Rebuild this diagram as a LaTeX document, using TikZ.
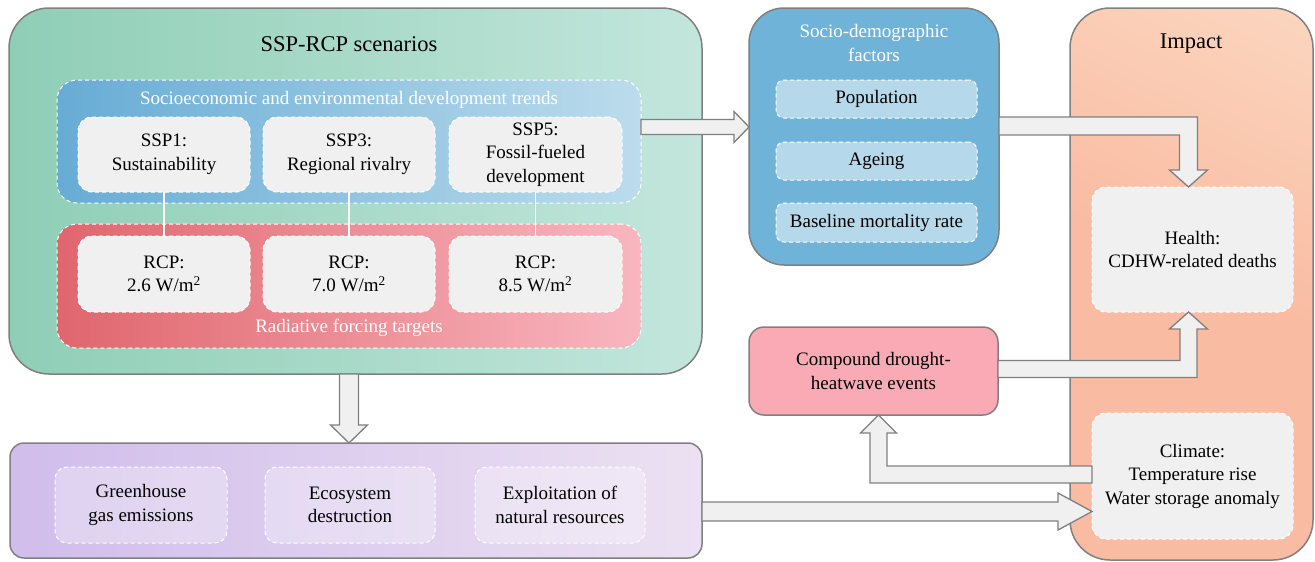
\documentclass[tikz,border=0pt]{standalone}
\usepackage{fontspec}
\setmainfont{Liberation Serif}
\newfontfamily\figfont{Liberation Serif}
\usepackage{xcolor}
\usepackage{tikz}
\usetikzlibrary{positioning, calc}

\definecolor{greenL}{HTML}{8FCEB6}
\definecolor{greenR}{HTML}{C3E6DC}
\definecolor{blueL}{HTML}{67ACD5}
\definecolor{blueR}{HTML}{BCDCEC}
\definecolor{redL}{HTML}{E0666E}
\definecolor{redR}{HTML}{F9B6BF}
\definecolor{socioBlue}{HTML}{6FB4D8}
\definecolor{socioIn}{HTML}{B5D9EB}
\definecolor{impDark}{HTML}{F9BBA1}
\definecolor{impLight}{HTML}{FDE4CF}
\definecolor{cdhwPink}{HTML}{F9AAB5}
\definecolor{purpL}{HTML}{D0BDEB}
\definecolor{purpR}{HTML}{ECE1F2}
\definecolor{boxGray}{HTML}{F0F0F0}
\definecolor{edgeGray}{HTML}{808080}

\pgfdeclareverticalshading{impshade}{100bp}{color(0bp)=(impDark); color(50bp)=(impDark); color(100bp)=(impLight)}

\newcommand{\boxfont}{\figfont\fontsize{19}{23.5}\selectfont}
\newcommand{\headfont}{\figfont\fontsize{22.5}{26}\selectfont}

\begin{document}
\begin{tikzpicture}[
        x=1pt, y=1pt,
        every node/.style={inner sep=0pt, outer sep=0pt, font=\boxfont, align=center},
        panel/.style={draw=edgeGray, line width=1.5pt, anchor=north west},
        dashbox/.style={draw=white, line width=1pt, dash pattern=on 4pt off 3pt, anchor=north west},
        graybox/.style={dashbox, fill=boxGray, rounded corners=14pt,
            minimum width=172pt, minimum height=75pt},
        factorbox/.style={dashbox, fill=socioIn, rounded corners=8pt,
            minimum width=201pt, minimum height=38pt},
        driverbox/.style={dashbox, fill=white, fill opacity=0.3, text opacity=1,
            rounded corners=12pt, minimum width=171pt, minimum height=76pt},
        fatarrow/.style={draw=edgeGray, fill=boxGray, line width=1.3pt, line join=miter}
    ]

    \useasboundingbox (0,0) rectangle (1315,-562);

    % scenario panel
    \node[panel, left color=greenL, right color=greenR, rounded corners=40pt,
        minimum width=693pt, minimum height=366pt] (ssp) at (9,-8) {};
    \node[font=\headfont] (ssptitle) at (349,-44) {SSP-RCP scenarios};

    \node[dashbox, left color=blueL, right color=blueR, rounded corners=20pt,
        minimum width=584pt, minimum height=123pt] (trend) at (57,-80) {};
    \node[text=white] (trendlabel) at (349,-100) {Socioeconomic and environmental development trends};

    \node[graybox] (ssp1) at (78,-117) {SSP1:\\Sustainability};
    \node[graybox, right=13pt of ssp1] (ssp3) {SSP3:\\Regional rivalry};
    \node[graybox, right=14pt of ssp3, minimum width=173pt] (ssp5) {SSP5:\\Fossil-fueled\\development};

    \node[dashbox, left color=redL, right color=redR, rounded corners=20pt,
        minimum width=584pt, minimum height=124pt] (rcp) at (57,-224) {};
    \node[text=white] (rcplabel) at (349,-328) {Radiative forcing targets};

    \node[graybox, minimum height=76pt] (rcp26) at (78,-236) {RCP:\\2.6 W/m\textsuperscript{2}};
    \node[graybox, minimum height=76pt, right=13pt of rcp26] (rcp70) {RCP:\\7.0 W/m\textsuperscript{2}};
    \node[graybox, minimum height=76pt, minimum width=173pt, right=14pt of rcp70] (rcp85) {RCP:\\8.5 W/m\textsuperscript{2}};

    \draw[white, line width=1.2pt] (ssp1) -- (rcp26);
    \draw[white, line width=1.2pt] (ssp3) -- (rcp70);
    \draw[white, line width=1.2pt] (ssp5) -- (rcp85);

    % socio-demographic panel
    \node[panel, fill=socioBlue, rounded corners=35pt,
        minimum width=250pt, minimum height=257pt] (socio) at (749,-8) {};
    \node[text=white] (sociotitle) at (874,-43) {Socio-demographic\\factors};
    \node[factorbox] (pop) at (776,-80) {Population};
    \node[factorbox, below=24pt of pop] (age) {Ageing};
    \node[factorbox, below=23pt of age, minimum height=39pt] (mort) {Baseline mortality rate};

    % impact panel
    \node[panel, shading=impshade, shading angle=-25, rounded corners=40pt,
        minimum width=243pt, minimum height=552pt] (impact) at (1070,-8) {};
    \node[font=\headfont] (imptitle) at (1191,-44) {Impact};
    \node[graybox, minimum width=201pt, minimum height=125pt] (health) at (1092,-187)
        {Health:\\CDHW-related deaths};
    \node[graybox, minimum width=201pt, minimum height=126pt] (climate) at (1092,-413)
        {Climate:\\Temperature rise\\Water storage anomaly};

    % compound events
    \node[panel, fill=cdhwPink, rounded corners=15pt,
        minimum width=249pt, minimum height=88pt] (cdhw) at (749,-327)
        {Compound drought-\\heatwave events};

    % human drivers
    \node[panel, left color=purpL, right color=purpR, rounded corners=14pt,
        minimum width=692pt, minimum height=115pt] (driver) at (10,-443) {};
    \node[driverbox, minimum width=172pt] (ghg) at (55,-467) {Greenhouse\\gas emissions};
    \node[driverbox, minimum width=170pt, right=38pt of ghg] (eco) {Ecosystem\\destruction};
    \node[driverbox, minimum width=170pt, right=40pt of eco] (res) {Exploitation of\\natural resources};

    % block arrows
    \draw[fatarrow] let \p1=(trend.east |- 0,-127), \p2=(socio.west |- 0,-127) in
        (\x1,\y1+7.5) -- (\x2-15,\y1+7.5) -- (\x2-15,\y1+15.5) -- (\p2)
        -- (\x2-15,\y1-15.5) -- (\x2-15,\y1-7.5) -- (\x1,\y1-7.5) -- cycle;

    \draw[fatarrow] let \p1=(socio.east |- 0,-126), \p2=([xshift=-4pt]health.north) in
        (\x1,\y1+9) -- (\x2+9,\y1+9) -- (\x2+9,\y2+17) -- (\x2+19,\y2+17) -- (\p2)
        -- (\x2-19,\y2+17) -- (\x2-9,\y2+17) -- (\x2-9,\y1-9) -- (\x1,\y1-9) -- cycle;

    \draw[fatarrow] let \p1=(cdhw.east |- 0,-369), \p2=([xshift=-4pt]health.south) in
        (\x1,\y1-8.5) -- (\x2+8.5,\y1-8.5) -- (\x2+8.5,\y2-17) -- (\x2+19,\y2-17) -- (\p2)
        -- (\x2-19,\y2-17) -- (\x2-8.5,\y2-17) -- (\x2-8.5,\y1+8.5) -- (\x1,\y1+8.5) -- cycle;

    \draw[fatarrow] let \p1=(climate.west |- 0,-474.5), \p2=([xshift=5pt]cdhw.south) in
        (\x1,\y1+8.5) -- (\x2+8.5,\y1+8.5) -- (\x2+8.5,\y2-18) -- (\x2+18,\y2-18) -- (\p2)
        -- (\x2-18,\y2-18) -- (\x2-8.5,\y2-18) -- (\x2-8.5,\y1-8.5) -- (\x1,\y1-8.5) -- cycle;

    \draw[fatarrow] let \p1=(trend.south |- ssp.south), \p2=(trend.south |- driver.north) in
        (\x1-9.5,\y1) -- (\x1-9.5,\y2+18) -- (\x1-18.5,\y2+18) -- (\p2)
        -- (\x1+18.5,\y2+18) -- (\x1+9.5,\y2+18) -- (\x1+9.5,\y1) -- cycle;

    \draw[fatarrow] let \p1=(driver.east |- 0,-511.5), \p2=(climate.west |- 0,-511.5) in
        (\x1,\y1+9.5) -- (\x2-34,\y1+9.5) -- (\x2-34,\y1+18.5) -- (\p2)
        -- (\x2-34,\y1-18.5) -- (\x2-34,\y1-9.5) -- (\x1,\y1-9.5) -- cycle;

\end{tikzpicture}
\end{document}
